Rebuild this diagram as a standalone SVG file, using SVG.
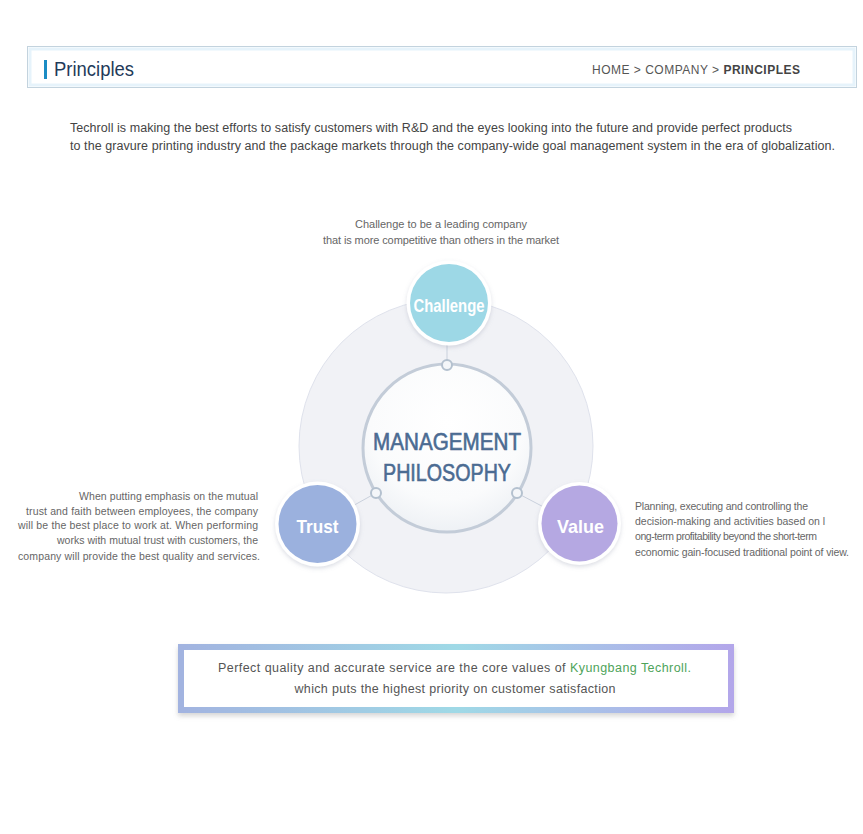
<svg xmlns="http://www.w3.org/2000/svg" width="863" height="834" viewBox="0 0 863 834">
<defs>
<style>
.t{font-family:"Liberation Sans",Arial,sans-serif;}
.desc{font-family:"Liberation Sans",Arial,sans-serif;font-size:10.5px;fill:#666;}
.node-label{font-family:"Liberation Sans",Arial,sans-serif;font-size:19px;font-weight:bold;fill:#fff;text-anchor:middle;}
.ring{fill:#fff;filter:url(#sh);}
.junction{fill:#f4f6f9;stroke:#b4c1cf;stroke-width:2;}
.conn{stroke:#c9d0dc;stroke-width:1;fill:none;}
.mp{font-family:"Liberation Sans",Arial,sans-serif;font-size:23px;fill:#4b6b92;stroke:#4b6b92;stroke-width:0.6;text-anchor:middle;}
</style>
<filter id="sh" x="-20%" y="-20%" width="140%" height="150%">
<feDropShadow dx="0" dy="2" stdDeviation="2" flood-color="#8a93a8" flood-opacity="0.3"/>
</filter>
<filter id="boxsh" x="-5%" y="-20%" width="110%" height="150%">
<feDropShadow dx="0" dy="3" stdDeviation="2.5" flood-color="#888" flood-opacity="0.35"/>
</filter>
<radialGradient id="innerFill" cx="50%" cy="35%" r="65%">
<stop offset="0" stop-color="#ffffff"/>
<stop offset="0.7" stop-color="#fafbfc"/>
<stop offset="1" stop-color="#eef1f5"/>
</radialGradient>
<linearGradient id="boxGrad" x1="0" y1="0" x2="1" y2="0">
<stop offset="0" stop-color="#a2b3e0"/>
<stop offset="0.5" stop-color="#9fd9e6"/>
<stop offset="1" stop-color="#b3a6ea"/>
</linearGradient>
</defs>
<rect width="863" height="834" fill="#fff"/>

<g id="header">
<rect x="27.5" y="46.5" width="829" height="41" fill="#fff" stroke="#c3d3de" stroke-width="1"/>
<rect x="30" y="49" width="824" height="36" fill="none" stroke="#e6f3fb" stroke-width="3"/>
<rect x="44" y="60" width="3" height="19" fill="#1b8cc4"/>
<text class="t" x="54" y="76" font-size="20" fill="#1f3b5a" textLength="80" lengthAdjust="spacingAndGlyphs">Principles</text>
<text class="t" x="592" y="74" font-size="12" fill="#555" textLength="208" lengthAdjust="spacing">HOME &gt; COMPANY &gt; <tspan font-weight="bold" fill="#444">PRINCIPLES</tspan></text>
</g>

<g id="intro">
<text class="t" x="70" y="132" font-size="12.5" fill="#444" textLength="722" lengthAdjust="spacing">Techroll is making the best efforts to satisfy customers with R&amp;D and the eyes looking into the future and provide perfect products</text>
<text class="t" x="70" y="150" font-size="12.5" fill="#444" textLength="765" lengthAdjust="spacing">to the gravure printing industry and the package markets through the company-wide goal management system in the era of globalization.</text>
</g>

<g id="outer-circle">
<circle cx="446" cy="446" r="147" fill="#f1f2f6" stroke="#dfe2ec" stroke-width="1"/>
</g>

<g id="connectors">
<line class="conn" x1="447" y1="345" x2="447" y2="364"/>
<line class="conn" x1="376" y1="493" x2="340" y2="513"/>
<line class="conn" x1="517" y1="493" x2="555" y2="513"/>
</g>

<g id="management-philosophy">
<circle cx="447" cy="448" r="84" fill="url(#innerFill)" stroke="#c3ccd8" stroke-width="3"/>
<text class="mp" x="447" y="450" textLength="148" lengthAdjust="spacingAndGlyphs">MANAGEMENT</text>
<text class="mp" x="447" y="481" textLength="128" lengthAdjust="spacingAndGlyphs">PHILOSOPHY</text>
<circle class="junction" cx="447" cy="365" r="5"/>
<circle class="junction" cx="376" cy="493" r="5"/>
<circle class="junction" cx="517" cy="493" r="5"/>
</g>

<g id="challenge">
<circle class="ring" cx="449" cy="303" r="42.5"/>
<circle cx="449" cy="303" r="39" fill="#9dd8e6"/>
<text class="node-label" x="449" y="312" textLength="71" lengthAdjust="spacingAndGlyphs">Challenge</text>
<text class="t" x="441" y="228" font-size="11" fill="#666" text-anchor="middle" textLength="172" lengthAdjust="spacing">Challenge to be a leading company</text>
<text class="t" x="441" y="244" font-size="11" fill="#666" text-anchor="middle" textLength="236" lengthAdjust="spacing">that is more competitive than others in the market</text>
</g>

<g id="trust">
<circle class="ring" cx="317.5" cy="524" r="42.5"/>
<circle cx="317.5" cy="524" r="39" fill="#9bb1de"/>
<text class="node-label" x="317.5" y="533" textLength="42" lengthAdjust="spacingAndGlyphs">Trust</text>
<g text-anchor="end">
<text class="desc" x="258" y="500" textLength="179" lengthAdjust="spacing">When putting emphasis on the mutual</text>
<text class="desc" x="258" y="515" textLength="232" lengthAdjust="spacing">trust and faith between employees, the company</text>
<text class="desc" x="258" y="529" textLength="240" lengthAdjust="spacing">will be the best place to work at. When performing</text>
<text class="desc" x="258" y="544" textLength="201" lengthAdjust="spacing">works with mutual trust with customers, the</text>
<text class="desc" x="260" y="560" textLength="242" lengthAdjust="spacing">company will provide the best quality and services.</text>
</g>
</g>

<g id="value">
<circle class="ring" cx="579.5" cy="523.5" r="41.5"/>
<circle cx="579.5" cy="523.5" r="38" fill="#b5a8e2"/>
<text class="node-label" x="580.5" y="532.5" textLength="47" lengthAdjust="spacingAndGlyphs">Value</text>
<text class="desc" x="635" y="510" textLength="173" lengthAdjust="spacing">Planning, executing and controlling the</text>
<text class="desc" x="635" y="525" textLength="190" lengthAdjust="spacing">decision-making and activities based on l</text>
<text class="desc" x="635" y="540" textLength="182" lengthAdjust="spacing">ong-term profitability beyond the short-term</text>
<text class="desc" x="635" y="556" textLength="214" lengthAdjust="spacing">economic gain-focused traditional point of view.</text>
</g>

<g id="core-values">
<rect x="178" y="644" width="556" height="69" fill="url(#boxGrad)" filter="url(#boxsh)"/>
<rect x="184" y="650" width="544" height="57" fill="#fff"/>
<text class="t" x="218" y="672" font-size="12.5" fill="#555" textLength="473" lengthAdjust="spacing">Perfect quality and accurate service are the core values of <tspan fill="#4ea35a">Kyungbang Techroll.</tspan></text>
<text class="t" x="455" y="693" font-size="12.5" fill="#555" text-anchor="middle" textLength="321" lengthAdjust="spacing">which puts the highest priority on customer satisfaction</text>
</g>
</svg>
